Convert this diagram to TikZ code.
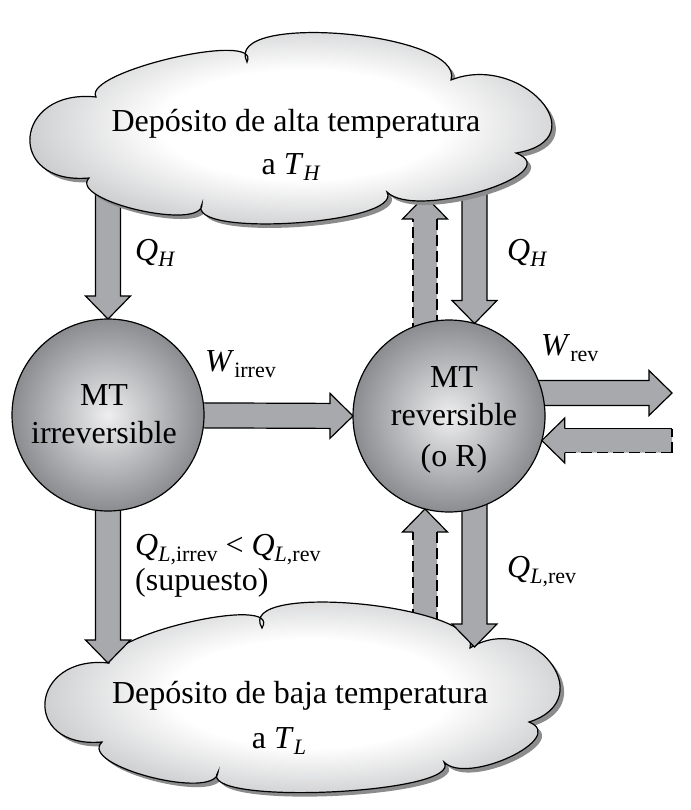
\documentclass[tikz,border=0pt]{standalone}
\usepackage{fontspec}
\setmainfont{Liberation Serif}
\usetikzlibrary{calc}
\definecolor{arrowgray}{RGB}{167,169,172}
\definecolor{orbout}{RGB}{138,140,144}
\definecolor{orbin}{RGB}{238,238,239}
\definecolor{cloudout}{RGB}{198,199,201}
\definecolor{shadowgray}{RGB}{140,140,140}
\pgfdeclareradialshading{orbshade}{\pgfpointorigin}{color(0bp)=(orbin); color(25bp)=(orbout); color(50bp)=(orbout)}
\pgfdeclareradialshading{cloudshade}{\pgfpointorigin}{color(0bp)=(white); color(12bp)=(white); color(25bp)=(cloudout); color(50bp)=(cloudout)}
\newcommand\lobe[3]{.. controls ($0.4333*(#1)+1.3333*(#3)-0.7667*(#2)$) and ($0.4333*(#2)+1.3333*(#3)-0.7667*(#1)$) .. (#2)}
\newcommand\topcloud{(96,-97) \lobe{96,-97}{247,-62}{172,-58} \lobe{247,-62}{451,-80}{345,-34} \lobe{451,-80}{516,-153}{541,-101} \lobe{516,-153}{387,-192}{482,-191} \lobe{387,-192}{202,-204}{294,-223} \lobe{202,-204}{89,-178}{138,-210} \lobe{89,-178}{96,-97}{30,-137} -- cycle}
\newcommand\botcloud{(109,-663) \lobe{109,-663}{262,-628}{190,-622} \lobe{262,-628}{470,-648}{360,-604} \lobe{470,-648}{529,-722}{550,-662} \lobe{529,-722}{444,-762}{510,-757} \lobe{444,-762}{218,-772}{330,-792} \lobe{218,-772}{102,-742}{150,-777} \lobe{102,-742}{109,-663}{45,-702} -- cycle}
\newcommand\subs[1]{\raisebox{-6pt}{\fontsize{22}{22}\selectfont #1}}
\newcommand\solidarrow[2]{%
  \coordinate (hb) at ($(#2)!23pt!(#1)$);
  \filldraw[fill=arrowgray, outline] ($(#1)!12.5pt!90:(#2)$) -- ($(hb)!12.5pt!90:(#2)$) -- ($(hb)!22.5pt!90:(#2)$) -- (#2) -- ($(hb)!22.5pt!-90:(#2)$) -- ($(hb)!12.5pt!-90:(#2)$) -- ($(#1)!12.5pt!-90:(#2)$) -- cycle;}
\newcommand\dashedarrow[3][dashedline]{%
  \coordinate (hb) at ($(#3)!23pt!(#2)$);
  \fill[arrowgray] ($(#2)!12pt!90:(#3)$) -- ($(hb)!12pt!90:(#3)$) -- ($(hb)!22.5pt!90:(#3)$) -- (#3) -- ($(hb)!22.5pt!-90:(#3)$) -- ($(hb)!12pt!-90:(#3)$) -- ($(#2)!12pt!-90:(#3)$) -- cycle;
  \draw[dashedline] ($(#2)!12pt!90:(#3)$) -- ($(hb)!12pt!90:(#3)$);
  \draw[#1] ($(hb)!12pt!-90:(#3)$) -- ($(#2)!12pt!-90:(#3)$);
  \draw[dashedline] ($(#2)!12pt!90:(#3)$) -- ($(#2)!12pt!-90:(#3)$);
  \draw[outline] ($(hb)!12pt!90:(#3)$) -- ($(hb)!22.5pt!90:(#3)$) -- (#3) -- ($(hb)!22.5pt!-90:(#3)$) -- ($(hb)!12pt!-90:(#3)$);}
\begin{document}
\begin{tikzpicture}[x=1pt,y=1pt,
  outline/.style={draw=black, line width=1.2pt, line join=miter},
  dashedline/.style={outline, dash pattern=on 11pt off 5pt},
  cloudstyle/.style={draw=black, line width=1.2pt, shading=cloudshade},
  orb/.style={circle, minimum size=192pt, inner sep=0pt, draw=black, line width=1.2pt, shading=orbshade},
  txt/.style={font=\fontsize{32}{39}\selectfont, inner sep=0pt, anchor=base},
  lbl/.style={font=\fontsize{32}{39}\selectfont, inner sep=0pt, anchor=base west}]
\path[fill=white,use as bounding box] (0,0) rectangle (690,-810);
% named points
\coordinate (cL) at (108,-415);
\coordinate (cR) at (449,-416);
\coordinate (qhlT) at (108,-150);
\coordinate (qhlH) at ($(cL)+(0,96)$);
\coordinate (qhrT) at (474.5,-150);
\coordinate (qhrH) at ($(cR)+(25.5,92.5)$);
\coordinate (dtT) at ($(cR)+(-24,50)$);
\coordinate (dtH) at (425,-196);
\coordinate (qlrT) at ($(cR)+(25.5,0)$);
\coordinate (qlrH) at (474.5,-647);
\coordinate (dbT) at (425,-700);
\coordinate (dbH) at ($(cR)+(-24,-93)$);
\coordinate (qllH) at (108,-663);
\coordinate (wiH) at ($(cR)+(-96,0)$);
\coordinate (wrT) at ($(cR)+(0,23)$);
\coordinate (wrH) at (672,-393);
\coordinate (dlT) at (672,-440.5);
\coordinate (dlH) at ($(cR)+(92.8,-24.5)$);
% arrows leaving the hot reservoir (behind it)
\solidarrow{qhlT}{qhlH}
\solidarrow{qhrT}{qhrH}
\dashedarrow{dtT}{dtH}
% hot reservoir
\begin{scope}[xshift=4pt,yshift=-4pt]
\fill[shadowgray] \topcloud;
\end{scope}
\path[cloudstyle] \topcloud;
% arrow entering from the cold reservoir
\dashedarrow{dbT}{dbH}
% cold reservoir
\begin{scope}[xshift=4pt,yshift=-4pt]
\fill[shadowgray] \botcloud;
\end{scope}
\path[cloudstyle] \botcloud;
% other arrows
\solidarrow{cL}{qllH}
\solidarrow{qlrT}{qlrH}
\solidarrow{cL}{wiH}
\solidarrow{wrT}{wrH}
\dashedarrow[outline]{dlT}{dlH}
% engines
\node[orb] (circL) at (cL) {};
\node[orb] (circR) at (cR) {};
% texts
\node[txt] (hot1) at (296,-132) {Depósito de alta temperatura};
\node[txt] (hot2) at (291,-175) {a \textit{T}\subs{\textit{H}}};
\node[txt] (cold1) at (300,-703) {Depósito de baja temperatura};
\node[txt] (cold2) at (279,-748) {a \textit{T}\subs{\textit{L}}};
\node[txt] (mtl1) at (104,-405) {MT};
\node[txt] (mtl2) at (104,-443) {irreversible};
\node[txt] (mtr1) at (454,-387) {MT};
\node[txt] (mtr2) at (454,-425) {reversible};
\node[txt] (mtr3) at (454,-466) {(o R)};
\node[lbl] (qhl) at (135,-260) {\textit{Q}\subs{\textit{H}}};
\node[lbl] (qhr) at (507,-260) {\textit{Q}\subs{\textit{H}}};
\node[lbl] (wirr) at (205,-371) {\textit{W}\subs{irrev}};
\node[lbl] (wrev) at (541,-355) {\textit{W}\subs{rev}};
\node[lbl] (qlirr) at (135,-555) {\textit{Q}\subs{\textit{L},irrev} < \textit{Q}\subs{\textit{L},rev}};
\node[lbl] (sup) at (135,-590) {(supuesto)};
\node[lbl] (qlrev) at (507,-577) {\textit{Q}\subs{\textit{L},rev}};
\end{tikzpicture}
\end{document}
